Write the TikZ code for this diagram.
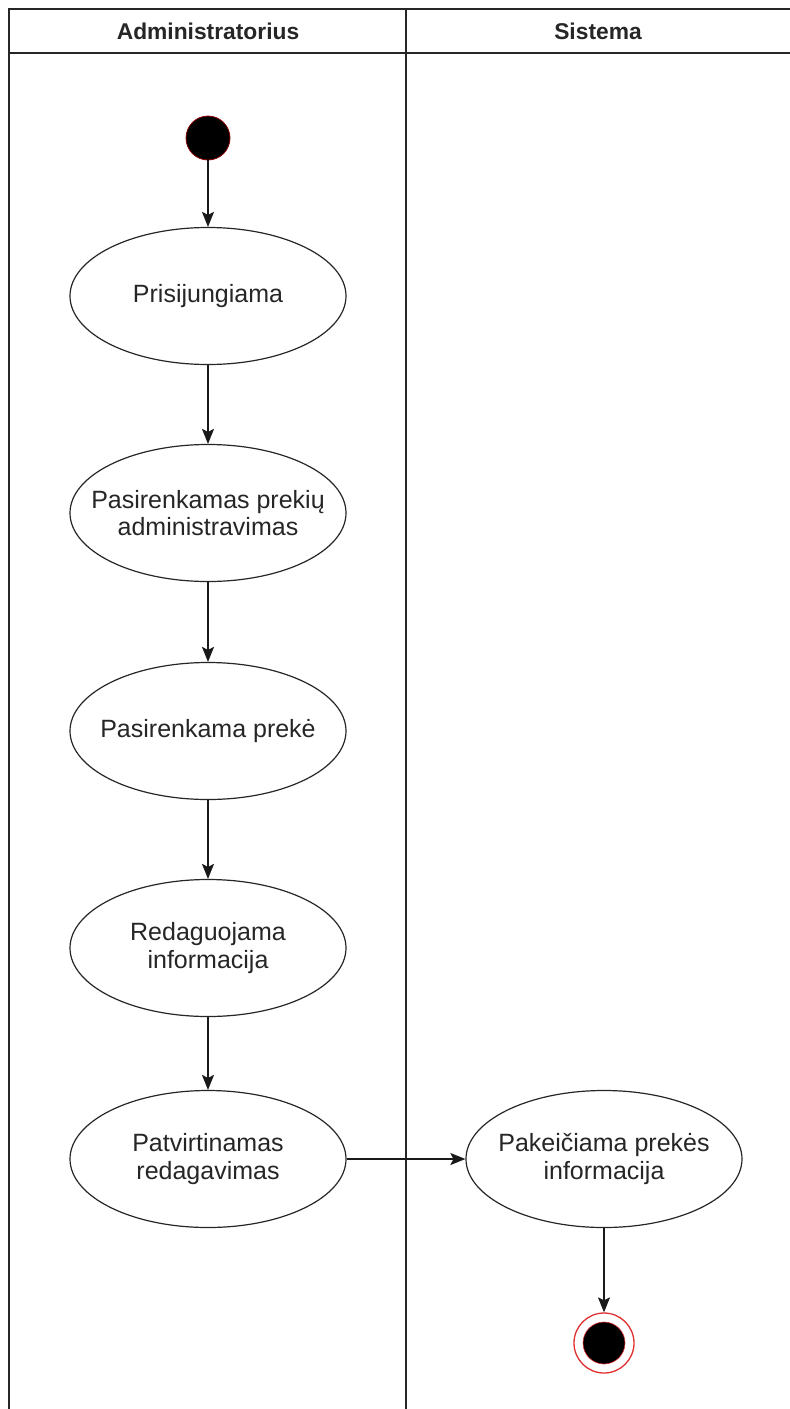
\documentclass[tikz,border=0pt]{standalone}
\usepackage{fontspec}
\setmainfont{Liberation Sans}
\usetikzlibrary{shapes.geometric,arrows.meta}
\definecolor{txt}{HTML}{262626}
\definecolor{startred}{HTML}{8B0000}
\definecolor{endred}{HTML}{E03030}
\tikzset{
  lane/.style={line width=1.6pt, draw=black!85},
  act/.style={ellipse, draw=black!85, line width=1.2pt, fill=white, minimum width=276pt, minimum height=137pt, inner sep=0pt},
  acttext/.style={align=center, text=txt, font=\fontsize{25}{27.5}\selectfont},
  flow/.style={line width=1.4pt, draw=black!90, -{Stealth[length=15pt,width=12pt,inset=3pt]}},
  hdr/.style={font=\bfseries\fontsize{22.8}{26}\selectfont, text=txt}
}
\begin{document}
\begin{tikzpicture}[x=1pt,y=-1pt]
\useasboundingbox (0,0) rectangle (790,1409);
\fill[white] (0,0) rectangle (790,1409);
% swimlane frame
\coordinate (tl) at (9,9);
\coordinate (tr) at (790,9);
\coordinate (hl) at (9,53);
\coordinate (hr) at (790,53);
\coordinate (bl) at (9,1409);
\coordinate (dt) at (406,9);
\coordinate (db) at (406,1409);
\draw[lane] (tr) -- (tl) -- (bl);
\draw[lane] (hl) -- (hr);
\draw[lane] (dt) -- (db);
\node[hdr] (h1) at (208,31) {Administratorius};
\node[hdr] (h2) at (598,31) {Sistema};
% start
\node[circle, fill=black, draw=startred, line width=0.8pt, minimum size=44pt, inner sep=0pt] (start) at (208,138) {};
% activities
\node[act, label={[acttext]center:Prisijungiama}] (a1) at (208,296) {};
\node[act, label={[acttext]center:Pasirenkamas prekių\\administravimas}] (a2) at (208,513) {};
\node[act, label={[acttext]center:Pasirenkama prekė}] (a3) at (208,731) {};
\node[act, label={[acttext]center:Redaguojama\\informacija}] (a4) at (208,948) {};
\node[act, label={[acttext]center:Patvirtinamas\\redagavimas}] (a5) at (208,1159) {};
\node[act, label={[acttext]center:Pakeičiama prekės\\informacija}] (b1) at (604,1159) {};
% end
\node[circle, draw=endred, line width=1.3pt, fill=white, minimum size=60pt, inner sep=0pt] (end) at (604,1343) {};
\node[circle, fill=black, draw=endred, line width=0.6pt, minimum size=42pt, inner sep=0pt] (endin) at (end.center) {};
% flows
\draw[flow] (start) -- (a1);
\draw[flow] (a1) -- (a2);
\draw[flow] (a2) -- (a3);
\draw[flow] (a3) -- (a4);
\draw[flow] (a4) -- (a5);
\draw[flow] (a5) -- (b1);
\draw[flow] (b1) -- (end);
\end{tikzpicture}
\end{document}
